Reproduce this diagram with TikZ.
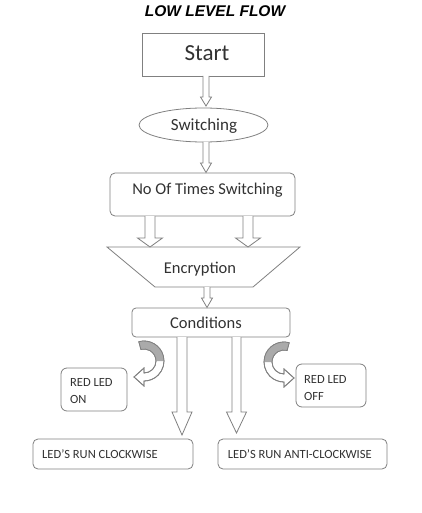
\documentclass[tikz,border=0pt]{standalone}
\usepackage{fontspec}
\setmainfont{Carlito}
\newfontfamily\titlefont{Liberation Sans}
\usetikzlibrary{shapes.geometric}
\definecolor{linegray}{RGB}{128,128,128}
\definecolor{txtgray}{RGB}{50,50,50}
\definecolor{bandgray}{RGB}{170,170,170}
\newcommand{\varrow}[6]{%
  \draw[blk] (#1-#5,#2) -- (#1-#5,#3) -- (#1-#6,#3) -- (#1,#4) -- (#1+#6,#3) -- (#1+#5,#3) -- (#1+#5,#2);}
\newcommand{\curvarrow}{%
  \draw[line, fill=white] (-105:20) arc[start angle=-105, end angle=90, radius=20] -- (0,25) -- (-10,16) -- (0,7) -- (0,12) arc[start angle=90, end angle=-105, radius=12] -- cycle;
  \fill[bandgray] (-105:20) arc[start angle=-105, end angle=0, radius=20] -- (0:12) arc[start angle=0, end angle=-105, radius=12] -- cycle;
  \draw[line] (-105:20) arc[start angle=-105, end angle=90, radius=20] -- (0,25) -- (-10,16) -- (0,7) -- (0,12) arc[start angle=90, end angle=-105, radius=12] -- cycle;}
\begin{document}
\begin{tikzpicture}[x=1pt,y=-1pt,
  line/.style={draw=linegray, line width=0.8pt, line join=miter},
  box/.style={line, rectangle, rounded corners=5pt, inner sep=0pt, fill=white},
  lbl/.style={text=txtgray, inner sep=0pt, anchor=base, font=\fontsize{16.5}{19}\selectfont},
  small/.style={text=txtgray, inner sep=0pt, align=left, font=\fontsize{12.5}{17}\selectfont},
  blk/.style={line, fill=white},
]
\useasboundingbox[fill=white] (0,0) rectangle (421,513);

% title
\node[inner sep=0pt, anchor=base, font=\titlefont\bfseries\itshape\fontsize{15.5}{18}\selectfont] (title) at (215,17) {LOW LEVEL FLOW};

% boxes
\node[box, rounded corners=0pt, minimum width=122pt, minimum height=43pt] (start) at (203,54.5) {};
\node[lbl, font=\fontsize{23}{27}\selectfont] (startt) at (207,60.5) {Start};

\node[line, ellipse, fill=white, inner sep=0pt, minimum width=129pt, minimum height=34pt] (sw) at (203.5,125) {};
\node[lbl, font=\fontsize{17}{20}\selectfont] (swt) at (204,131) {Switching};

\node[box, minimum width=185pt, minimum height=43pt] (nots) at (202.5,194.5) {};
\node[lbl] (notst) at (207.5,194.3) {No Of Times Switching};

\draw[line, fill=white] (107,247) -- (300,247) -- (253,287) -- (155,287) -- cycle;
\node[lbl] (enc) at (200,273.3) {Encryption};

\node[box, rounded corners=4pt, minimum width=158pt, minimum height=29pt] (cond) at (211,322.5) {};
\node[lbl] (condt) at (206,328.3) {Conditions};

\node[box, rounded corners=6pt, minimum width=66pt, minimum height=43pt] (on) at (94,389.5) {};
\node[small, anchor=north west] (ont) at (70,378.3) {RED LED\\ON};

\node[box, rounded corners=6pt, minimum width=70pt, minimum height=43pt] (off) at (331,385.5) {};
\node[small, anchor=north west] (offt) at (304,375) {RED LED\\OFF};

\node[box, minimum width=160pt, minimum height=30pt] (cw) at (113,454) {};
\node[small, anchor=base west] (cwt) at (42,458) {LED’S RUN CLOCKWISE};

\node[box, minimum width=169pt, minimum height=30pt] (acw) at (302.5,454) {};
\node[small, anchor=base west] (acwt) at (227.7,458) {LED’S RUN ANTI-CLOCKWISE};

% block arrows
\varrow{206}{76}{97}{106}{3}{5.5}
\varrow{206}{142}{163}{172.5}{3}{5.5}
\varrow{150}{216}{238}{247}{5}{12.5}
\varrow{248}{216}{238}{247}{5}{12.5}
\varrow{207}{287}{298}{307.5}{3}{5.5}
\varrow{182}{337}{412}{435}{5}{10}
\varrow{236.5}{337}{412}{433}{4.5}{10}

% curved arrows
\begin{scope}[shift={(144,361)}]
  \curvarrow
\end{scope}
\begin{scope}[shift={(284,362)}, xscale=-1]
  \curvarrow
\end{scope}
\end{tikzpicture}
\end{document}
